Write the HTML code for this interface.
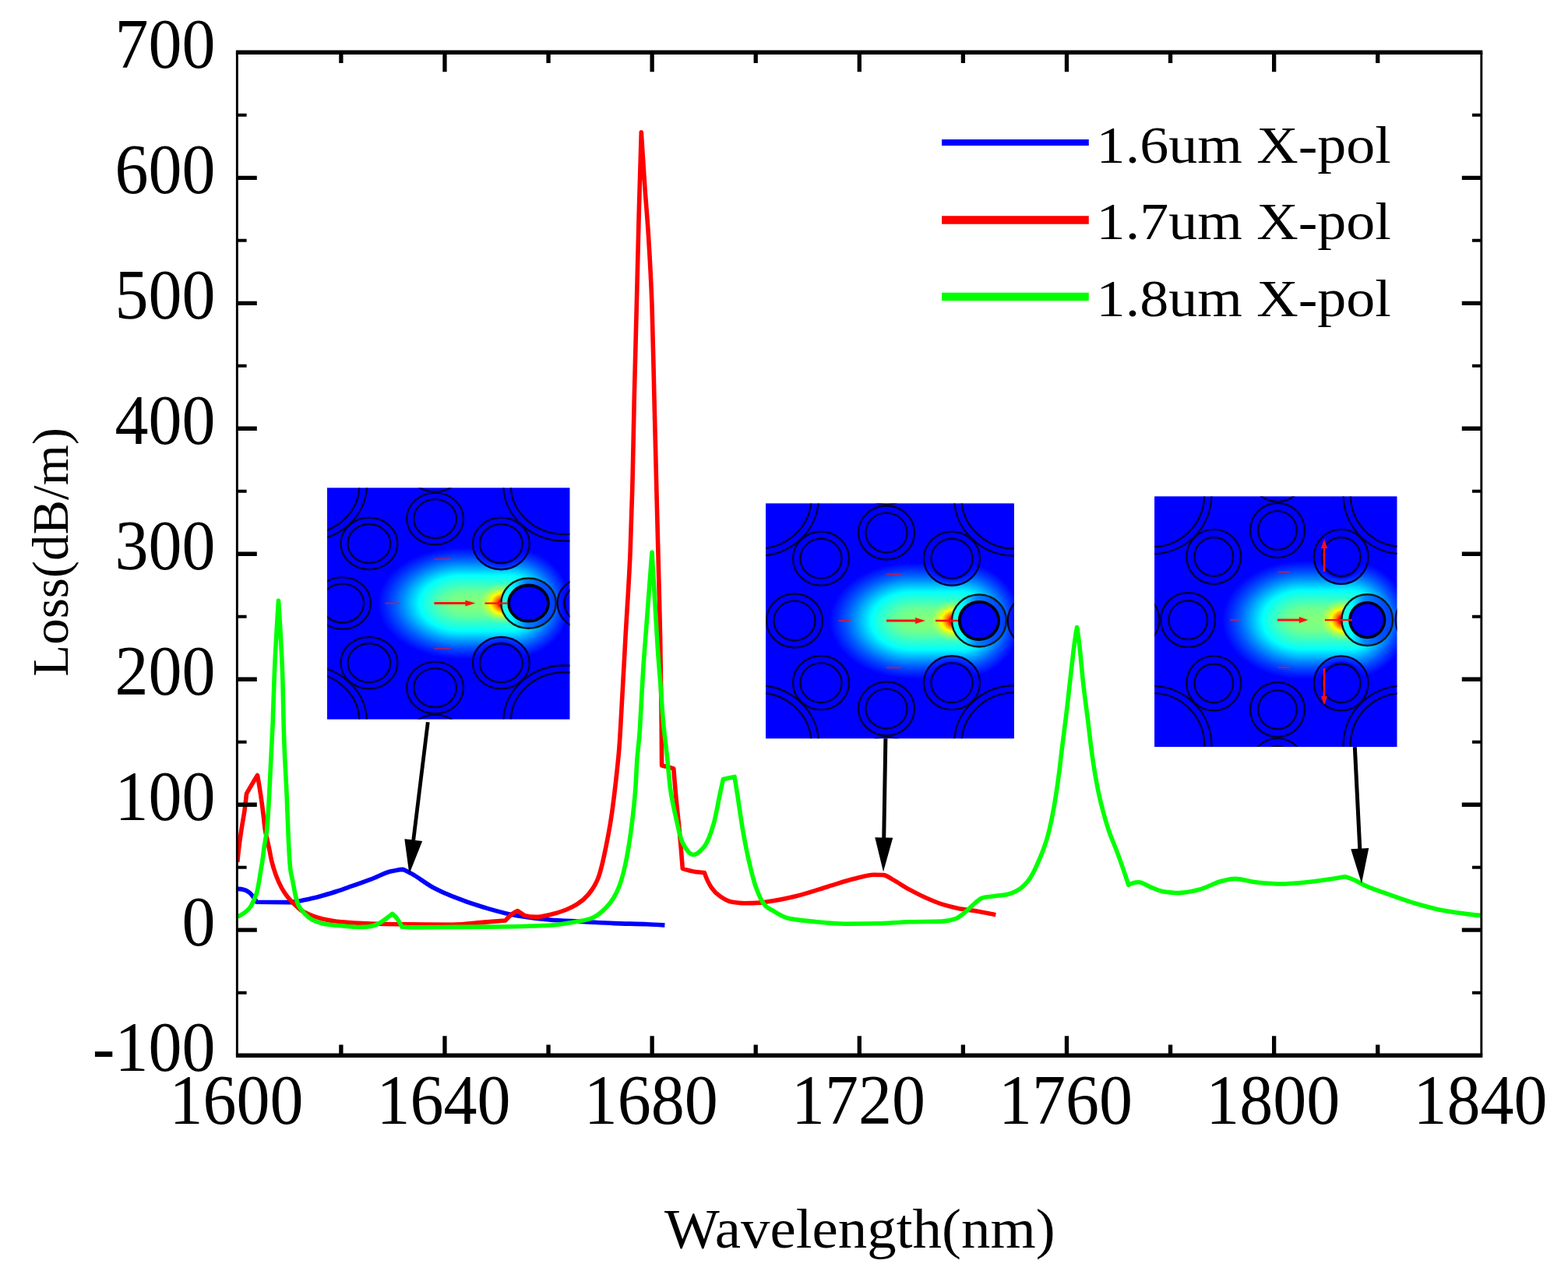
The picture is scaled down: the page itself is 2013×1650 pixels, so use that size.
<!DOCTYPE html>
<html lang="en"><head><meta charset="utf-8"><title>Loss versus wavelength</title>
<style>html,body{margin:0;padding:0;background:#fff}body{width:2013px;height:1650px;overflow:hidden}svg{display:block}text{font-family:"Liberation Serif","DejaVu Serif",serif;fill:#000}</style>
</head><body>
<svg width="2013" height="1650" viewBox="0 0 2013 1650">
<rect width="2013" height="1650" fill="#fff"/>
<defs>
<filter id="jet" x="0" y="0" width="1" height="1" color-interpolation-filters="sRGB">
<feComponentTransfer>
<feFuncR type="table" tableValues="0 0 0 0.5 1 1 1 0.5"/>
<feFuncG type="table" tableValues="0 0.5 1 1 1 0.5 0 0"/>
<feFuncB type="table" tableValues="1 1 1 0.5 0 0 0 0"/>
</feComponentTransfer></filter>
<radialGradient id="g0l" gradientUnits="userSpaceOnUse" cx="0" cy="0" r="1" gradientTransform="translate(0.28 0) scale(0.9 0.66)">
<stop offset="0" stop-color="#fff" stop-opacity="0.395"/>
<stop offset="0.17" stop-color="#fff" stop-opacity="0.385"/>
<stop offset="0.3" stop-color="#fff" stop-opacity="0.36"/>
<stop offset="0.42" stop-color="#fff" stop-opacity="0.32"/>
<stop offset="0.5" stop-color="#fff" stop-opacity="0.285"/>
<stop offset="0.6" stop-color="#fff" stop-opacity="0.22"/>
<stop offset="0.7" stop-color="#fff" stop-opacity="0.155"/>
<stop offset="0.8" stop-color="#fff" stop-opacity="0.095"/>
<stop offset="0.9" stop-color="#fff" stop-opacity="0.045"/>
<stop offset="1" stop-color="#fff" stop-opacity="0"/>
</radialGradient>
<radialGradient id="g0r" gradientUnits="userSpaceOnUse" cx="0" cy="0" r="1" gradientTransform="translate(0.8 0) scale(0.66 0.66)">
<stop offset="0" stop-color="#fff" stop-opacity="0.395"/>
<stop offset="0.17" stop-color="#fff" stop-opacity="0.385"/>
<stop offset="0.3" stop-color="#fff" stop-opacity="0.36"/>
<stop offset="0.42" stop-color="#fff" stop-opacity="0.32"/>
<stop offset="0.5" stop-color="#fff" stop-opacity="0.285"/>
<stop offset="0.6" stop-color="#fff" stop-opacity="0.22"/>
<stop offset="0.7" stop-color="#fff" stop-opacity="0.155"/>
<stop offset="0.8" stop-color="#fff" stop-opacity="0.095"/>
<stop offset="0.9" stop-color="#fff" stop-opacity="0.045"/>
<stop offset="1" stop-color="#fff" stop-opacity="0"/>
</radialGradient>
<linearGradient id="g0m" x1="0" y1="0" x2="0" y2="1">
<stop offset="0" stop-color="#fff" stop-opacity="0"/>
<stop offset="0.05" stop-color="#fff" stop-opacity="0.045"/>
<stop offset="0.1" stop-color="#fff" stop-opacity="0.095"/>
<stop offset="0.15" stop-color="#fff" stop-opacity="0.155"/>
<stop offset="0.2" stop-color="#fff" stop-opacity="0.22"/>
<stop offset="0.25" stop-color="#fff" stop-opacity="0.285"/>
<stop offset="0.29" stop-color="#fff" stop-opacity="0.32"/>
<stop offset="0.35" stop-color="#fff" stop-opacity="0.36"/>
<stop offset="0.415" stop-color="#fff" stop-opacity="0.385"/>
<stop offset="0.5" stop-color="#fff" stop-opacity="0.395"/>
<stop offset="0.585" stop-color="#fff" stop-opacity="0.385"/>
<stop offset="0.65" stop-color="#fff" stop-opacity="0.36"/>
<stop offset="0.71" stop-color="#fff" stop-opacity="0.32"/>
<stop offset="0.75" stop-color="#fff" stop-opacity="0.285"/>
<stop offset="0.8" stop-color="#fff" stop-opacity="0.22"/>
<stop offset="0.85" stop-color="#fff" stop-opacity="0.155"/>
<stop offset="0.9" stop-color="#fff" stop-opacity="0.095"/>
<stop offset="0.95" stop-color="#fff" stop-opacity="0.045"/>
<stop offset="1" stop-color="#fff" stop-opacity="0"/>
</linearGradient>
<radialGradient id="g1">
<stop offset="0" stop-color="#fff" stop-opacity="0.07"/>
<stop offset="0.5" stop-color="#fff" stop-opacity="0.05"/>
<stop offset="1" stop-color="#fff" stop-opacity="0"/>
</radialGradient>
<radialGradient id="g2">
<stop offset="0" stop-color="#fff" stop-opacity="1"/>
<stop offset="0.12" stop-color="#fff" stop-opacity="0.88"/>
<stop offset="0.3" stop-color="#fff" stop-opacity="0.55"/>
<stop offset="0.5" stop-color="#fff" stop-opacity="0.3"/>
<stop offset="0.72" stop-color="#fff" stop-opacity="0.12"/>
<stop offset="1" stop-color="#fff" stop-opacity="0"/>
</radialGradient>
<radialGradient id="gK">
<stop offset="0" stop-color="#000" stop-opacity="1"/>
<stop offset="0.74" stop-color="#000" stop-opacity="1"/>
<stop offset="0.8" stop-color="#000" stop-opacity="0.75"/>
<stop offset="0.94" stop-color="#000" stop-opacity="0.6"/>
<stop offset="1" stop-color="#000" stop-opacity="0.25"/>
</radialGradient>
<linearGradient id="gCr">
<stop offset="0" stop-color="#fff" stop-opacity="0.28"/>
<stop offset="0.2" stop-color="#fff" stop-opacity="0.26"/>
<stop offset="0.45" stop-color="#fff" stop-opacity="0.13"/>
<stop offset="0.75" stop-color="#fff" stop-opacity="0.08"/>
<stop offset="1" stop-color="#fff" stop-opacity="0.06"/>
</linearGradient>
<radialGradient id="gKb">
<stop offset="0" stop-color="#000" stop-opacity="1"/>
<stop offset="0.86" stop-color="#000" stop-opacity="1"/>
<stop offset="0.9" stop-color="#000" stop-opacity="0.75"/>
<stop offset="0.97" stop-color="#000" stop-opacity="0.6"/>
<stop offset="1" stop-color="#000" stop-opacity="0.25"/>
</radialGradient>
<g id="glow" shape-rendering="crispEdges">
<path d="M0.28 -0.66A0.9 0.66 0 0 0 0.28 0.66Z" fill="url(#g0l)"/>
<rect x="0.28" y="-0.66" width="0.52" height="1.32" fill="url(#g0m)"/>
<path d="M0.8 -0.66A0.66 0.66 0 0 1 0.8 0.66Z" fill="url(#g0r)"/>
<ellipse cx="0.42" cy="0" rx="0.5" ry="0.24" fill="url(#g1)"/>
<ellipse cx="0.735" cy="0" rx="0.25" ry="0.24" fill="url(#g2)"/>
</g>
</defs>
<clipPath id="plotclip"><rect x="304.8" y="67.3" width="1597" height="1287.9"/></clipPath>
<g id="curves" clip-path="url(#plotclip)">
<path d="M304.8 1141.4C308.3 1141.4 311.5 1142 314.2 1142.7C316.6 1143.3 318.7 1144.9 320.5 1146.4C322.3 1147.9 323.6 1149.9 325.1 1151.8C326.7 1153.8 328.2 1155.9 329.6 1158.2L373.3 1158.6C377.8 1158 382.4 1157.2 386.9 1156.4C391.4 1155.6 396 1154.6 400.5 1153.6C405.1 1152.5 409.3 1151.4 414.2 1150C419.8 1148.4 426.4 1146.5 432.4 1144.5C438.5 1142.5 444 1140.5 450.5 1138.2C458.3 1135.5 467.5 1132.3 476 1129.1C484.7 1125.8 494.5 1120.4 502.1 1118.8C507.7 1117.6 512.8 1116.5 517.3 1116.4C520.6 1117.7 524.7 1119.8 529.4 1122.4C536.7 1126.4 547.8 1135.3 556.7 1140C564.6 1144.2 571.1 1147.1 580 1150.7C591.7 1155.5 607.7 1161.2 621.7 1165.3C635.5 1169.3 649.5 1173.5 663.5 1175.8C677.3 1178.1 691.3 1179.9 705.2 1181C719.1 1182.1 733 1182.6 746.9 1183.4C760.8 1184.2 774.7 1185.1 788.6 1185.6C802.5 1186.1 818.6 1186.3 830.4 1186.8C839.1 1187.1 846.9 1187.6 853.4 1188" fill="none" stroke="#0000ff" stroke-width="5.6" stroke-linejoin="round" stroke-linecap="butt"/>
<path d="M304.8 1107C305.7 1097.1 306.8 1088.1 307.8 1080C308.7 1073.4 309.5 1068.2 310.5 1061.8C311.6 1054.7 313.2 1046.4 314.2 1039.1C315.1 1032.2 315.9 1025.6 316.5 1019.1C318.7 1015.2 321 1011.2 323.3 1007.3C325.6 1003.4 328 999.4 330.5 995.5C331.5 1000.8 332.4 1006.2 333.3 1011.8C334.2 1017.7 335.2 1023.9 336 1030C336.8 1036.1 337.6 1042.1 338.3 1048.2C339 1054.3 339.6 1061.1 340.5 1066.4C341.2 1070.7 342.2 1074.4 343 1078C343.7 1081.3 344.3 1083.7 345.1 1087.3C346.2 1092.3 347.3 1099.5 348.7 1105.5C350.2 1111.6 352.1 1117.8 354.2 1123.6C356.3 1129.3 358.9 1135.2 361.5 1140C363.7 1144.1 366 1147.5 368.7 1150.9C371.4 1154.4 374.7 1157.8 377.8 1160.9C380.8 1163.8 383.6 1166.9 386.9 1169.1C390.2 1171.3 393.8 1172.8 397.8 1174.5C402.6 1176.5 408.5 1178.7 414.2 1180C420 1181.4 425.1 1182.4 432.4 1183.2C443.6 1184.4 458.6 1185.6 476 1186C502.8 1186.7 553.6 1187.2 580 1187.2C596.7 1187.2 609.3 1185 621.7 1184.1C631.7 1183.3 640.7 1182.6 648.8 1182C651.6 1178.6 654.4 1175.8 657.2 1173.7C659.6 1172 662 1170.5 664.5 1169.5L673.9 1175.8C678.6 1177 683.5 1177.4 688.5 1177.4C693.9 1177.4 699.4 1175.9 705.2 1174.7C711.8 1173.3 719.8 1170.9 726 1168.5C731.4 1166.4 736 1164.2 740.7 1161.2C745.8 1158 751.1 1153.6 755.3 1148.6C760 1143 764.6 1136.1 767.8 1127.8C772.1 1116.8 775.3 1100 778.2 1086C781 1072.1 783.5 1058.2 785.5 1044.3C787.5 1030.4 789.1 1016.5 790.7 1002.6C792.2 988.7 793.9 974 794.9 960.9C795.8 949.1 796.2 941.3 797 927.3C798.5 902 801 854.6 803 818.2C805 781.8 807.7 744.6 809.1 709.1C810.4 675.3 811.4 642.8 812.2 610C813 577.6 813.4 547.5 814.2 513.6C815.1 475.6 816.3 432.8 817.3 392.4C818.3 352 819.3 309.8 820.3 271.2C821.3 235.9 822.3 202 823.3 169.7C824.8 194.4 826.3 218.1 827.9 240.9C829.4 261.9 831 279.3 832.4 301.5C834.1 328.6 835.9 360 837 392.4C838.3 429.8 839 473.2 840 513.6C841 554 842.2 601.4 843 634.8C843.6 658.7 844 673.1 844.6 697C845.4 730.4 846.9 780.1 847.6 818.2C848.2 852.3 848.8 885.8 849.1 915.2C849.3 939.8 849.5 962.4 849.6 983C852.3 983.6 854.9 984.2 857.5 984.9C860 985.5 862.4 986.2 864.8 986.9C865.7 998.7 866.7 1010.9 867.9 1023.5C869.1 1036.9 870.8 1050.7 872.1 1065.2C873.6 1081.1 875 1097.8 876.3 1115.3C882.4 1117.2 887.9 1118.7 893 1119.4C897.1 1119.9 900.9 1120.5 904.4 1120.5C906.9 1128.4 910.2 1135.2 913.8 1140.3C916.8 1144.5 920.3 1147.9 924.3 1150.7C928.5 1153.6 933.7 1157.1 938.9 1158C944.1 1158.9 949.6 1159.7 955.5 1159.7C962.1 1159.7 971.2 1159.4 976.4 1159.1C979.6 1158.9 980.8 1158.5 984.2 1158C991.7 1156.9 1008.9 1153.7 1021.7 1150.7C1035.3 1147.5 1050.6 1142.1 1063.5 1138.2C1074.7 1134.9 1084.7 1131.3 1094.8 1128.8C1104.1 1126.5 1114.6 1123.2 1121.9 1123.2C1126.8 1123.2 1130.3 1123.4 1134.4 1123.6C1138.7 1123.9 1142.3 1127.4 1146.9 1129.9C1153 1133.2 1160.8 1138.6 1167.8 1142.4C1174.7 1146.1 1181.6 1149.7 1188.6 1152.8C1195.5 1155.9 1202.5 1159 1209.5 1161.2C1216.4 1163.3 1223.4 1165.1 1230.4 1166.4C1237.3 1167.7 1243.8 1168.3 1251.2 1169.5C1259.6 1170.9 1268.7 1172.7 1278.3 1174.7" fill="none" stroke="#ff0000" stroke-width="5.6" stroke-linejoin="round" stroke-linecap="butt"/>
<path d="M304.8 1177.3C308.3 1175.8 311.4 1173.9 314.2 1171.8C316.9 1169.7 319.6 1167.2 321.5 1164.5C323.3 1161.8 324.7 1158.5 326 1155.5C327.3 1152.5 328.6 1149.8 329.6 1146.4C330.7 1142.4 331.6 1137.3 332.4 1132.7C333.2 1128.2 333.9 1123.6 334.6 1119.1C335.3 1114.6 336.2 1110.4 336.9 1105.5C337.7 1099.9 338.4 1092.9 339.2 1087.3C339.9 1082.4 340.9 1077.4 341.5 1073.6C341.9 1070.8 342.2 1069.5 342.6 1066.4C343.3 1060.4 344 1048.8 344.6 1039.1C345.3 1027.9 345.9 1014.8 346.5 1002.7C347.1 990.6 347.7 978.5 348.3 966.4C348.9 954.3 349.5 943.8 350.1 930C350.9 911.6 351.3 888.7 352.3 865.2C353.5 836.9 355.3 805.5 357.5 771.3C359.7 804.4 361.6 835.7 362.6 865.2C363.5 891.5 363.8 919.9 364.4 940C364.8 953.9 365.2 963 365.8 975.5C366.4 989.7 367.5 1006.3 368.1 1020.9C368.7 1034.4 369.1 1048.2 369.6 1060C370 1069.9 370.3 1078.2 370.8 1087.3C371.3 1096.4 371.8 1106.4 372.6 1114.5C373.3 1121.2 374.8 1126.6 376 1132.7C377.2 1138.8 378.3 1145.6 379.6 1150.9C380.7 1155.3 381.6 1159 383.3 1162.7C385.1 1166.6 388.5 1170.5 391.5 1173.6C394.2 1176.4 397.1 1179 400.5 1180.9C404.4 1183 409.3 1184.9 414.2 1185.9C419.7 1187 425.7 1187.5 432.4 1188.2C440.5 1189 452.4 1190.5 459.6 1190.5C464.5 1190.5 467.9 1190.3 472 1190C476 1189.7 480 1188.4 483.9 1187C488.1 1185.5 492.5 1181.9 496 1179.4C498.9 1177.3 501.4 1175.3 503.6 1173.3C505.8 1174.9 507.8 1177 509.7 1179.4C511.9 1182.3 514 1185.9 515.8 1190C519.9 1190.4 525.6 1190.9 532.4 1190.9C543.9 1190.9 563.1 1190.5 580 1190.4C599.4 1190.2 621.7 1190.2 642.6 1190C663.5 1189.8 688.1 1189.2 705.2 1188.3C717.3 1187.7 727.2 1185.6 736.5 1184.1C744.1 1182.8 750.7 1182 757.3 1179.9C764.6 1177.6 772.4 1171.3 778.2 1165.3C784.7 1158.5 791.1 1148.1 794.9 1138.2C799 1127.6 801.8 1115.5 804.3 1102.7C807.2 1088 809.7 1070.2 811.6 1054.8C813.3 1040.4 814.8 1026.5 815.8 1013C816.7 1000.3 817 988.1 817.9 975.8C818.7 963.7 820.5 950.8 821.2 940C821.8 931 822 925.1 822.6 915.2C823.5 899.7 824.8 873.6 826.1 854.5C827.2 837.5 828.5 822.2 829.7 806.1C830.9 789.9 832.1 773.8 833.3 757.6C834.5 741.4 835.8 725.3 837 709.1C838.2 729.3 839.4 749.5 840.6 769.7C841.8 789.9 842.9 811.2 844.2 830.3C845.3 847.4 846.7 862.6 847.9 878.8C849.1 895 850.1 911.5 851.5 927.3C852.8 942.3 854.9 956.8 856.4 971.3C857.9 985.4 858.8 999.5 860.6 1013C862.3 1025.9 865.2 1038.7 867.9 1050.6C870.4 1061.5 872.5 1073.9 876.3 1081.9C879.3 1088.2 885 1097.5 889.8 1097.5C894.1 1097.5 899.7 1092.3 903.4 1088.1C908.5 1082.2 912.8 1069.5 915.9 1058.9C919.4 1046.9 922 1029.9 924.3 1019.3C925.9 1012 927.3 1005.6 928.4 1000.5L943 997.4C944.3 1005.1 945.7 1013.8 947.2 1023.5C949.1 1035.7 951.1 1051.3 953.5 1065.2C955.9 1079.1 958.8 1094.1 961.8 1106.9C964.4 1118.1 966.7 1128.6 970.1 1138.2C973.3 1147.2 978.1 1158.7 982.7 1163.2C985.7 1166.1 988.7 1167.3 992.5 1169.5C997.6 1172.5 1004.1 1177.2 1011.3 1178.9C1020.1 1181 1031.4 1182 1042.6 1183.1C1055.5 1184.4 1070.4 1186.2 1084.3 1186.2C1098.2 1186.2 1112.1 1186 1126 1185.8C1139.9 1185.6 1153.9 1184 1167.8 1183.7C1181.7 1183.4 1199 1183.5 1209.5 1183.1C1216.2 1182.9 1221.3 1181.5 1226.2 1179.9C1230.8 1178.4 1234.7 1174.7 1238.7 1171.6C1243 1168.3 1247.1 1163.3 1251.2 1160.1C1254.8 1157.3 1257.8 1153.8 1261.7 1152.8C1265.9 1151.7 1271.3 1151.4 1276.3 1150.7C1281.7 1150 1287.6 1149.7 1292.9 1148.6C1298 1147.6 1303 1145.2 1307.6 1142.4C1312.8 1139.3 1318.1 1133.6 1322.2 1127.8C1327 1121.1 1331 1111.5 1334.7 1102.7C1338.6 1093.5 1342.2 1084 1345.1 1073.5C1348.4 1061.4 1351.1 1047.3 1353.5 1033.9C1355.9 1020.2 1358.1 1004.4 1359.7 992.2C1360.9 982.7 1361.5 976.5 1362.7 966.7C1364.3 953.2 1366.8 934.8 1368.8 918.2C1370.9 900.8 1372.9 881.4 1374.8 864.8C1376.5 850.2 1378.2 834.4 1379.7 823.6C1380.7 816.4 1381.7 810.3 1382.6 805.5C1383.7 811.7 1384.7 819.5 1385.8 828.5C1387.4 841.5 1388.8 860.8 1390.6 877C1392.4 893.2 1394.7 909.3 1396.7 925.5C1398.7 941.6 1400.5 959 1402.7 973.9C1404.6 986.9 1406.5 998.6 1408.8 1010.3C1410.9 1021.2 1413.5 1032 1416.1 1041.8C1418.4 1050.4 1420.5 1057.5 1423.3 1066.1C1426.6 1076 1431.5 1086.5 1435.5 1097.6C1440 1109.8 1444.4 1122.8 1448.8 1136.4C1453.2 1133.7 1457.6 1132.7 1462.1 1132.7C1466.9 1132.7 1471.8 1136.9 1476.7 1138.8C1481.7 1140.8 1486.3 1143.4 1491.9 1144.4C1498.4 1145.5 1506.1 1146.6 1513.7 1146.6C1522 1146.6 1531.1 1144.2 1539.9 1142.2C1549.3 1140 1560 1133.1 1568.4 1131.3C1574.8 1129.9 1579.4 1128.4 1585.8 1128.4C1593.6 1128.4 1602.8 1131.9 1612.1 1132.8C1622.4 1133.8 1634 1135 1644.9 1135C1655.8 1135 1666.8 1133.8 1677.7 1132.8C1688.6 1131.8 1701.5 1129.7 1710.4 1128.4C1716.7 1127.5 1722.3 1126.6 1726.8 1125.8C1729.7 1126.5 1733 1127.7 1736.7 1129.1C1741.8 1131 1747.4 1134.9 1754.2 1137.8C1763.2 1141.7 1776 1146 1786.9 1149.8C1797.8 1153.6 1808.7 1157.6 1819.7 1160.8C1830.6 1163.9 1841.5 1167.1 1852.5 1169.1C1863.4 1171.1 1876.3 1172.9 1885.3 1173.9C1891.6 1174.6 1897.2 1175.3 1901.7 1175.6" fill="none" stroke="#00ff00" stroke-width="5.6" stroke-linejoin="round" stroke-linecap="butt"/>
</g>
<g id="axes" stroke="#000" fill="none">
<line x1="302.9" y1="67.3" x2="1903.3" y2="67.3" stroke-width="5.4"/>
<line x1="302.9" y1="1355.2" x2="1903.3" y2="1355.2" stroke-width="5.4"/>
<line x1="304.35" y1="67.3" x2="304.35" y2="1355.2" stroke-width="2.9"/>
<line x1="1901.8" y1="67.3" x2="1901.8" y2="1355.2" stroke-width="2.9"/>
<path d="M570.97 1355.2v-25M570.97 67.3v25M837.13 1355.2v-25M837.13 67.3v25M1103.3 1355.2v-25M1103.3 67.3v25M1369.47 1355.2v-25M1369.47 67.3v25M1635.63 1355.2v-25M1635.63 67.3v25M304.8 1194.21h25M1901.8 1194.21h-25M304.8 1033.23h25M1901.8 1033.23h-25M304.8 872.24h25M1901.8 872.24h-25M304.8 711.25h25M1901.8 711.25h-25M304.8 550.26h25M1901.8 550.26h-25M304.8 389.28h25M1901.8 389.28h-25M304.8 228.29h25M1901.8 228.29h-25" stroke-width="5.3"/>
<path d="M437.88 1355.2v-13.6M437.88 67.3v13.6M704.05 1355.2v-13.6M704.05 67.3v13.6M970.22 1355.2v-13.6M970.22 67.3v13.6M1236.38 1355.2v-13.6M1236.38 67.3v13.6M1502.55 1355.2v-13.6M1502.55 67.3v13.6M1768.72 1355.2v-13.6M1768.72 67.3v13.6" stroke-width="5.3"/>
<path d="M304.8 1274.71h11.8M1901.8 1274.71h-11.8M304.8 1113.72h11.8M1901.8 1113.72h-11.8M304.8 952.73h11.8M1901.8 952.73h-11.8M304.8 791.74h11.8M1901.8 791.74h-11.8M304.8 630.76h11.8M1901.8 630.76h-11.8M304.8 469.77h11.8M1901.8 469.77h-11.8M304.8 308.78h11.8M1901.8 308.78h-11.8M304.8 147.79h11.8M1901.8 147.79h-11.8" stroke-width="4"/>
</g>
<g id="ticklabels">
<text transform="translate(147.43 86.9) scale(0.9363 1)" font-size="91.85">700</text>
<text transform="translate(147.43 247.89) scale(0.9363 1)" font-size="91.85">600</text>
<text transform="translate(147.43 408.88) scale(0.9363 1)" font-size="91.85">500</text>
<text transform="translate(147.43 569.86) scale(0.9363 1)" font-size="91.85">400</text>
<text transform="translate(147.43 730.85) scale(0.9363 1)" font-size="91.85">300</text>
<text transform="translate(147.43 891.84) scale(0.9363 1)" font-size="91.85">200</text>
<text transform="translate(147.43 1052.83) scale(0.9363 1)" font-size="91.85">100</text>
<text transform="translate(233.42 1213.81) scale(0.9363 1)" font-size="91.85">0</text>
<text transform="translate(118.83 1374.8) scale(0.9363 1)" font-size="91.85">-100</text>
<text transform="translate(217.45 1442.6) scale(0.9363 1)" font-size="91.85">1600</text>
<text transform="translate(483.62 1442.6) scale(0.9363 1)" font-size="91.85">1640</text>
<text transform="translate(749.78 1442.6) scale(0.9363 1)" font-size="91.85">1680</text>
<text transform="translate(1015.95 1442.6) scale(0.9363 1)" font-size="91.85">1720</text>
<text transform="translate(1282.12 1442.6) scale(0.9363 1)" font-size="91.85">1760</text>
<text transform="translate(1548.28 1442.6) scale(0.9363 1)" font-size="91.85">1800</text>
<text transform="translate(1814.45 1442.6) scale(0.9363 1)" font-size="91.85">1840</text>
</g>
<g id="titles">
<text transform="translate(853.1 1602.3) scale(1.0333 1)" font-size="72.52">Wavelength(nm)</text>
<text transform="translate(87.3 868.64) rotate(-90) scale(1.0193 1)" font-size="65.65">Loss(dB/m)</text>
</g>
<g id="legend">
<line x1="1209.1" y1="183.1" x2="1397.8" y2="183.1" stroke="#0000ff" stroke-width="8"/>
<text transform="translate(1407.62 208.8) scale(1.1030 1)" font-size="67.11">1.6um X-pol</text>
<line x1="1209.1" y1="282.6" x2="1397.8" y2="282.6" stroke="#ff0000" stroke-width="10.5"/>
<text transform="translate(1407.62 307.3) scale(1.1030 1)" font-size="67.11">1.7um X-pol</text>
<line x1="1209.1" y1="381" x2="1397.8" y2="381" stroke="#00ff00" stroke-width="10.5"/>
<text transform="translate(1407.62 406.3) scale(1.1030 1)" font-size="67.11">1.8um X-pol</text>
</g>
<defs>
<clipPath id="clip1"><rect x="420" y="626.4" width="311.4" height="297.2"/></clipPath>
<clipPath id="clip2"><rect x="983.1" y="646.4" width="318.7" height="301.9"/></clipPath>
<clipPath id="clip3"><rect x="1482.2" y="637.4" width="311.2" height="321.5"/></clipPath>
</defs>
<g id="inset1" clip-path="url(#clip1)">
<rect x="420" y="626.4" width="311.4" height="297.2" fill="#0000ff"/>
<g transform="translate(558.6 774.6) scale(119 108.5)">
<g filter="url(#jet)">
<rect x="-2.2" y="-2.2" width="4.4" height="4.4" fill="#000"/>
<use href="#glow"/>
<g fill="url(#gK)">
<circle cx="-1" cy="0" r="0.31518"/>
<circle cx="0" cy="-1" r="0.31518"/>
<circle cx="0" cy="1" r="0.31518"/>
<circle cx="-0.712" cy="-0.706" r="0.31518"/>
<circle cx="0.712" cy="-0.706" r="0.31518"/>
<circle cx="-0.712" cy="0.706" r="0.31518"/>
<circle cx="0.712" cy="0.706" r="0.31518"/>
<circle cx="-1.625" cy="0" r="0.31518"/>
<circle cx="1.625" cy="0" r="0.31518"/>
<circle cx="0" cy="-1.625" r="0.31518"/>
<circle cx="0" cy="1.625" r="0.31518"/>
</g>
<g fill="url(#gKb)">
<circle cx="-1.397" cy="-1.397" r="0.6732"/>
<circle cx="1.397" cy="-1.397" r="0.6732"/>
<circle cx="-1.397" cy="1.397" r="0.6732"/>
<circle cx="1.397" cy="1.397" r="0.6732"/>
</g>
<circle cx="1.008" cy="0" r="0.296" fill="#000" fill-opacity="0.92"/>
<circle cx="1.008" cy="0" r="0.296" fill="url(#gCr)"/>
<circle cx="1.008" cy="0" r="0.213" fill="#000"/>
</g>
<g fill="none" stroke="#00003a" stroke-width="2.4">
<circle cx="-1" cy="0" r="0.306" vector-effect="non-scaling-stroke"/>
<circle cx="-1" cy="0" r="0.23" vector-effect="non-scaling-stroke"/>
<circle cx="0" cy="-1" r="0.306" vector-effect="non-scaling-stroke"/>
<circle cx="0" cy="-1" r="0.23" vector-effect="non-scaling-stroke"/>
<circle cx="0" cy="1" r="0.306" vector-effect="non-scaling-stroke"/>
<circle cx="0" cy="1" r="0.23" vector-effect="non-scaling-stroke"/>
<circle cx="-0.712" cy="-0.706" r="0.306" vector-effect="non-scaling-stroke"/>
<circle cx="-0.712" cy="-0.706" r="0.23" vector-effect="non-scaling-stroke"/>
<circle cx="0.712" cy="-0.706" r="0.306" vector-effect="non-scaling-stroke"/>
<circle cx="0.712" cy="-0.706" r="0.23" vector-effect="non-scaling-stroke"/>
<circle cx="-0.712" cy="0.706" r="0.306" vector-effect="non-scaling-stroke"/>
<circle cx="-0.712" cy="0.706" r="0.23" vector-effect="non-scaling-stroke"/>
<circle cx="0.712" cy="0.706" r="0.306" vector-effect="non-scaling-stroke"/>
<circle cx="0.712" cy="0.706" r="0.23" vector-effect="non-scaling-stroke"/>
<circle cx="-1.625" cy="0" r="0.306" vector-effect="non-scaling-stroke"/>
<circle cx="-1.625" cy="0" r="0.23" vector-effect="non-scaling-stroke"/>
<circle cx="1.625" cy="0" r="0.306" vector-effect="non-scaling-stroke"/>
<circle cx="1.625" cy="0" r="0.23" vector-effect="non-scaling-stroke"/>
<circle cx="0" cy="-1.625" r="0.306" vector-effect="non-scaling-stroke"/>
<circle cx="0" cy="-1.625" r="0.23" vector-effect="non-scaling-stroke"/>
<circle cx="0" cy="1.625" r="0.306" vector-effect="non-scaling-stroke"/>
<circle cx="0" cy="1.625" r="0.23" vector-effect="non-scaling-stroke"/>
<circle cx="-1.397" cy="-1.397" r="0.66" vector-effect="non-scaling-stroke"/>
<circle cx="-1.397" cy="-1.397" r="0.58" vector-effect="non-scaling-stroke"/>
<circle cx="1.397" cy="-1.397" r="0.66" vector-effect="non-scaling-stroke"/>
<circle cx="1.397" cy="-1.397" r="0.58" vector-effect="non-scaling-stroke"/>
<circle cx="-1.397" cy="1.397" r="0.66" vector-effect="non-scaling-stroke"/>
<circle cx="-1.397" cy="1.397" r="0.58" vector-effect="non-scaling-stroke"/>
<circle cx="1.397" cy="1.397" r="0.66" vector-effect="non-scaling-stroke"/>
<circle cx="1.397" cy="1.397" r="0.58" vector-effect="non-scaling-stroke"/>
</g>
<circle cx="1.008" cy="0" r="0.296" fill="none" stroke="#101c18" stroke-width="2.4" vector-effect="non-scaling-stroke"/>
<circle cx="1.008" cy="0" r="0.213" fill="none" stroke="#000010" stroke-width="3.8" vector-effect="non-scaling-stroke"/>
<g stroke="#ff1010" fill="#ff1010">
<path d="M-0.01 0H0.348" fill="none" stroke-width="3" vector-effect="non-scaling-stroke"/>
<path d="M0.326 -0.036L0.436 0L0.326 0.036Z" stroke="none"/>
<path d="M0.537 0H0.787" fill="none" stroke-width="2.4" vector-effect="non-scaling-stroke"/>
</g>
<path d="M-0.01 -0.523H0.166M-0.01 0.535H0.166M-0.54 0H-0.38" stroke="#d01848" fill="none" stroke-width="1.8" opacity="0.85" vector-effect="non-scaling-stroke"/>
</g>
</g>
<g id="inset2" clip-path="url(#clip2)">
<rect x="983.1" y="646.4" width="318.7" height="301.9" fill="#0000ff"/>
<g transform="translate(1138 797) scale(118 113)">
<g filter="url(#jet)">
<rect x="-2.2" y="-2.2" width="4.4" height="4.4" fill="#000"/>
<use href="#glow"/>
<g fill="url(#gK)">
<circle cx="-1" cy="0" r="0.31415"/>
<circle cx="0" cy="-1" r="0.31415"/>
<circle cx="0" cy="1" r="0.31415"/>
<circle cx="-0.712" cy="-0.706" r="0.31415"/>
<circle cx="0.712" cy="-0.706" r="0.31415"/>
<circle cx="-0.712" cy="0.706" r="0.31415"/>
<circle cx="0.712" cy="0.706" r="0.31415"/>
<circle cx="-1.625" cy="0" r="0.31415"/>
<circle cx="1.625" cy="0" r="0.31415"/>
<circle cx="0" cy="-1.625" r="0.31415"/>
<circle cx="0" cy="1.625" r="0.31415"/>
</g>
<g fill="url(#gKb)">
<circle cx="-1.397" cy="-1.397" r="0.6732"/>
<circle cx="1.397" cy="-1.397" r="0.6732"/>
<circle cx="-1.397" cy="1.397" r="0.6732"/>
<circle cx="1.397" cy="1.397" r="0.6732"/>
</g>
<circle cx="1.008" cy="0" r="0.296" fill="#000" fill-opacity="0.92"/>
<circle cx="1.008" cy="0" r="0.296" fill="url(#gCr)"/>
<circle cx="1.008" cy="0" r="0.213" fill="#000"/>
</g>
<g fill="none" stroke="#00003a" stroke-width="2.4">
<circle cx="-1" cy="0" r="0.305" vector-effect="non-scaling-stroke"/>
<circle cx="-1" cy="0" r="0.225" vector-effect="non-scaling-stroke"/>
<circle cx="0" cy="-1" r="0.305" vector-effect="non-scaling-stroke"/>
<circle cx="0" cy="-1" r="0.225" vector-effect="non-scaling-stroke"/>
<circle cx="0" cy="1" r="0.305" vector-effect="non-scaling-stroke"/>
<circle cx="0" cy="1" r="0.225" vector-effect="non-scaling-stroke"/>
<circle cx="-0.712" cy="-0.706" r="0.305" vector-effect="non-scaling-stroke"/>
<circle cx="-0.712" cy="-0.706" r="0.225" vector-effect="non-scaling-stroke"/>
<circle cx="0.712" cy="-0.706" r="0.305" vector-effect="non-scaling-stroke"/>
<circle cx="0.712" cy="-0.706" r="0.225" vector-effect="non-scaling-stroke"/>
<circle cx="-0.712" cy="0.706" r="0.305" vector-effect="non-scaling-stroke"/>
<circle cx="-0.712" cy="0.706" r="0.225" vector-effect="non-scaling-stroke"/>
<circle cx="0.712" cy="0.706" r="0.305" vector-effect="non-scaling-stroke"/>
<circle cx="0.712" cy="0.706" r="0.225" vector-effect="non-scaling-stroke"/>
<circle cx="-1.625" cy="0" r="0.305" vector-effect="non-scaling-stroke"/>
<circle cx="-1.625" cy="0" r="0.225" vector-effect="non-scaling-stroke"/>
<circle cx="1.625" cy="0" r="0.305" vector-effect="non-scaling-stroke"/>
<circle cx="1.625" cy="0" r="0.225" vector-effect="non-scaling-stroke"/>
<circle cx="0" cy="-1.625" r="0.305" vector-effect="non-scaling-stroke"/>
<circle cx="0" cy="-1.625" r="0.225" vector-effect="non-scaling-stroke"/>
<circle cx="0" cy="1.625" r="0.305" vector-effect="non-scaling-stroke"/>
<circle cx="0" cy="1.625" r="0.225" vector-effect="non-scaling-stroke"/>
<circle cx="-1.397" cy="-1.397" r="0.66" vector-effect="non-scaling-stroke"/>
<circle cx="-1.397" cy="-1.397" r="0.58" vector-effect="non-scaling-stroke"/>
<circle cx="1.397" cy="-1.397" r="0.66" vector-effect="non-scaling-stroke"/>
<circle cx="1.397" cy="-1.397" r="0.58" vector-effect="non-scaling-stroke"/>
<circle cx="-1.397" cy="1.397" r="0.66" vector-effect="non-scaling-stroke"/>
<circle cx="-1.397" cy="1.397" r="0.58" vector-effect="non-scaling-stroke"/>
<circle cx="1.397" cy="1.397" r="0.66" vector-effect="non-scaling-stroke"/>
<circle cx="1.397" cy="1.397" r="0.58" vector-effect="non-scaling-stroke"/>
</g>
<circle cx="1.008" cy="0" r="0.296" fill="none" stroke="#101c18" stroke-width="2.4" vector-effect="non-scaling-stroke"/>
<circle cx="1.008" cy="0" r="0.213" fill="none" stroke="#000010" stroke-width="3.8" vector-effect="non-scaling-stroke"/>
<g stroke="#ff1010" fill="#ff1010">
<path d="M0 0H0.336" fill="none" stroke-width="3" vector-effect="non-scaling-stroke"/>
<path d="M0.314 -0.036L0.424 0L0.314 0.036Z" stroke="none"/>
<path d="M0.534 0H0.78" fill="none" stroke-width="2.4" vector-effect="non-scaling-stroke"/>
</g>
<path d="M0 -0.525H0.16M0 0.533H0.16M-0.52 0H-0.39" stroke="#d01848" fill="none" stroke-width="1.8" opacity="0.85" vector-effect="non-scaling-stroke"/>
</g>
</g>
<g id="inset3" clip-path="url(#clip3)">
<rect x="1482.2" y="637.4" width="311.2" height="321.5" fill="#0000ff"/>
<g transform="translate(1640 796.1) scale(114.8 115.1)">
<g filter="url(#jet)">
<rect x="-2.2" y="-2.2" width="4.4" height="4.4" fill="#000"/>
<use href="#glow"/>
<g fill="url(#gK)">
<circle cx="-1" cy="0" r="0.31312"/>
<circle cx="0" cy="-1" r="0.31312"/>
<circle cx="0" cy="1" r="0.31312"/>
<circle cx="-0.712" cy="-0.706" r="0.31312"/>
<circle cx="0.712" cy="-0.706" r="0.31312"/>
<circle cx="-0.712" cy="0.706" r="0.31312"/>
<circle cx="0.712" cy="0.706" r="0.31312"/>
<circle cx="-1.625" cy="0" r="0.31312"/>
<circle cx="1.625" cy="0" r="0.31312"/>
<circle cx="0" cy="-1.625" r="0.31312"/>
<circle cx="0" cy="1.625" r="0.31312"/>
</g>
<g fill="url(#gKb)">
<circle cx="-1.397" cy="-1.397" r="0.6732"/>
<circle cx="1.397" cy="-1.397" r="0.6732"/>
<circle cx="-1.397" cy="1.397" r="0.6732"/>
<circle cx="1.397" cy="1.397" r="0.6732"/>
</g>
<circle cx="1.004" cy="0" r="0.286" fill="#000" fill-opacity="0.92"/>
<circle cx="1.004" cy="0" r="0.286" fill="url(#gCr)"/>
<circle cx="1.004" cy="0" r="0.194" fill="#000"/>
</g>
<g fill="none" stroke="#00003a" stroke-width="2.4">
<circle cx="-1" cy="0" r="0.304" vector-effect="non-scaling-stroke"/>
<circle cx="-1" cy="0" r="0.216" vector-effect="non-scaling-stroke"/>
<circle cx="0" cy="-1" r="0.304" vector-effect="non-scaling-stroke"/>
<circle cx="0" cy="-1" r="0.216" vector-effect="non-scaling-stroke"/>
<circle cx="0" cy="1" r="0.304" vector-effect="non-scaling-stroke"/>
<circle cx="0" cy="1" r="0.216" vector-effect="non-scaling-stroke"/>
<circle cx="-0.712" cy="-0.706" r="0.304" vector-effect="non-scaling-stroke"/>
<circle cx="-0.712" cy="-0.706" r="0.216" vector-effect="non-scaling-stroke"/>
<circle cx="0.712" cy="-0.706" r="0.304" vector-effect="non-scaling-stroke"/>
<circle cx="0.712" cy="-0.706" r="0.216" vector-effect="non-scaling-stroke"/>
<circle cx="-0.712" cy="0.706" r="0.304" vector-effect="non-scaling-stroke"/>
<circle cx="-0.712" cy="0.706" r="0.216" vector-effect="non-scaling-stroke"/>
<circle cx="0.712" cy="0.706" r="0.304" vector-effect="non-scaling-stroke"/>
<circle cx="0.712" cy="0.706" r="0.216" vector-effect="non-scaling-stroke"/>
<circle cx="-1.625" cy="0" r="0.304" vector-effect="non-scaling-stroke"/>
<circle cx="-1.625" cy="0" r="0.216" vector-effect="non-scaling-stroke"/>
<circle cx="1.625" cy="0" r="0.304" vector-effect="non-scaling-stroke"/>
<circle cx="1.625" cy="0" r="0.216" vector-effect="non-scaling-stroke"/>
<circle cx="0" cy="-1.625" r="0.304" vector-effect="non-scaling-stroke"/>
<circle cx="0" cy="-1.625" r="0.216" vector-effect="non-scaling-stroke"/>
<circle cx="0" cy="1.625" r="0.304" vector-effect="non-scaling-stroke"/>
<circle cx="0" cy="1.625" r="0.216" vector-effect="non-scaling-stroke"/>
<circle cx="-1.397" cy="-1.397" r="0.66" vector-effect="non-scaling-stroke"/>
<circle cx="-1.397" cy="-1.397" r="0.58" vector-effect="non-scaling-stroke"/>
<circle cx="1.397" cy="-1.397" r="0.66" vector-effect="non-scaling-stroke"/>
<circle cx="1.397" cy="-1.397" r="0.58" vector-effect="non-scaling-stroke"/>
<circle cx="-1.397" cy="1.397" r="0.66" vector-effect="non-scaling-stroke"/>
<circle cx="-1.397" cy="1.397" r="0.58" vector-effect="non-scaling-stroke"/>
<circle cx="1.397" cy="1.397" r="0.66" vector-effect="non-scaling-stroke"/>
<circle cx="1.397" cy="1.397" r="0.58" vector-effect="non-scaling-stroke"/>
</g>
<circle cx="1.004" cy="0" r="0.286" fill="none" stroke="#101c18" stroke-width="2.4" vector-effect="non-scaling-stroke"/>
<circle cx="1.004" cy="0" r="0.194" fill="none" stroke="#000010" stroke-width="3.6" vector-effect="non-scaling-stroke"/>
<g stroke="#ff1010" fill="#ff1010">
<path d="M0 0H0.262" fill="none" stroke-width="3" vector-effect="non-scaling-stroke"/>
<path d="M0.242 -0.036L0.342 0L0.242 0.036Z" stroke="none"/>
<path d="M0.53 0H0.835" fill="none" stroke-width="2.4" vector-effect="non-scaling-stroke"/>
</g>
<path d="M0.01 -0.535H0.14M0.01 0.53H0.14M-0.53 0H-0.42" stroke="#d01848" fill="none" stroke-width="1.8" opacity="0.85" vector-effect="non-scaling-stroke"/>
<g stroke="#ff1010" fill="#ff1010">
<path d="M0.523 -0.54V-0.87M0.523 0.54V0.9" fill="none" stroke-width="2.6" vector-effect="non-scaling-stroke"/>
<path d="M0.488 -0.8L0.523 -0.9L0.558 -0.8ZM0.488 0.85L0.523 0.95L0.558 0.85Z" stroke="none"/>
</g>
</g>
</g>
<g id="arrows" fill="#000" stroke="none">
<polygon points="546.92,927.01 528.37,1078.33 519.34,1077.23 525.4,1122.3 542.17,1080.03 533.13,1078.92 551.68,927.59"/>
<polygon points="1134.4,948.26 1132.25,1075.46 1123.25,1075.31 1134,1119.5 1146.24,1075.7 1137.24,1075.55 1139.4,948.34"/>
<polygon points="1736.8,959.32 1743.27,1089.68 1734.28,1090.13 1748,1134.5 1757.26,1088.99 1748.27,1089.43 1741.8,959.08"/>
</g>
</svg>
</body></html>
